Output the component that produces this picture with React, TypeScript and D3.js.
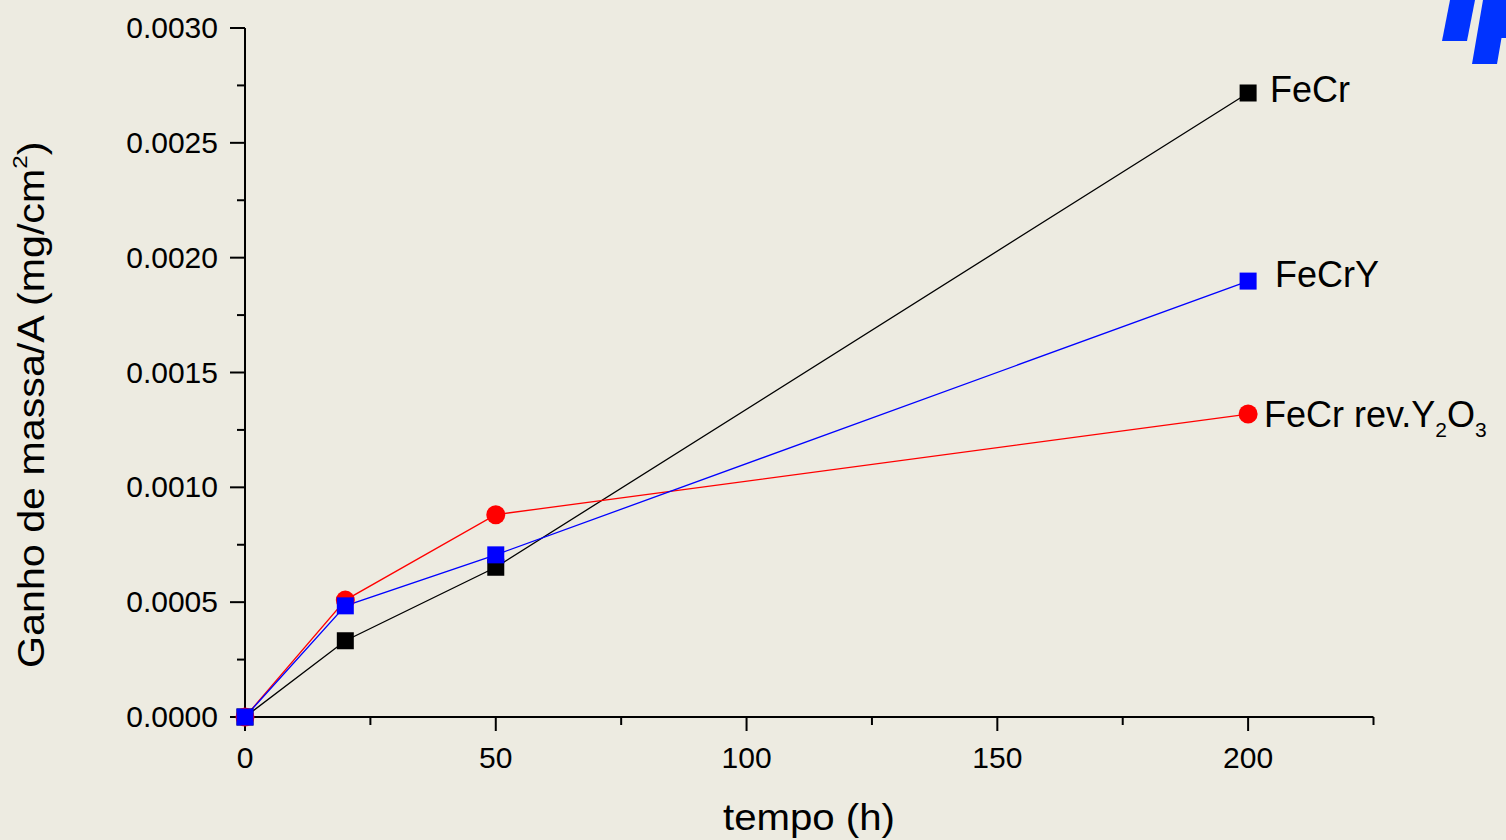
import React from "react";
import * as d3 from "d3";

const times = [0, 20, 50, 200];
const feCr = [0, 0.000332, 0.000652, 0.002717];
const feCrY = [0, 0.000484, 0.000706, 0.001898];
const feCrRev = [0, 0.000509, 0.000881, 0.001319];

const xMajorTicks = [0, 50, 100, 150, 200];
const xMinorTicks = [25, 75, 125, 175, 225];
const yMajorTicks = [0, 0.0005, 0.001, 0.0015, 0.002, 0.0025, 0.003];
const yMinorTicks = [0.00025, 0.00075, 0.00125, 0.00175, 0.00225, 0.00275];

const W = 1506;
const H = 840;
const BG = "#EDEBE1";
const FONT = "'Liberation Sans', Arial, Helvetica, sans-serif";

export default function App() {
  const x = d3.scaleLinear().domain([0, 225]).range([245, 1373.5]);
  const y = d3.scaleLinear().domain([0, 0.003]).range([717, 28]);
  const fmt = d3.format(".4f");
  const line = d3
    .line<[number, number]>()
    .x((d) => x(d[0]))
    .y((d) => y(d[1]));
  const pts = (vals: number[]) => times.map((t, i) => [t, vals[i]] as [number, number]);

  const sq = 17;
  const series = [
    { vals: feCr, color: "#000000", shape: "square" },
    { vals: feCrRev, color: "#FF0000", shape: "circle" },
    { vals: feCrY, color: "#0000FF", shape: "square" },
  ];

  return (
    <div style={{ position: "fixed", left: 0, top: 0, width: W, height: H, background: BG }}>
      <svg width={W} height={H} style={{ display: "block" }} fontFamily={FONT}>
        <rect x={0} y={0} width={W} height={H} fill={BG} />
        {/* logo fragment */}
        <polygon points="1450,0 1475,0 1467,41 1442,41" fill="#0033FF" />
        <polygon points="1483,0 1506,0 1506,38 1501.5,38 1497,64 1472,64" fill="#0033FF" />

        {/* axes */}
        <line x1={x(0)} x2={x(0)} y1={y(0.003)} y2={y(0)} stroke="#000" strokeWidth={2} />
        <line x1={x(0)} x2={x(225)} y1={y(0)} y2={y(0)} stroke="#000" strokeWidth={2} />
        {yMajorTicks.map((t) => (
          <g key={"ym" + t}>
            <line x1={x(0) - 15} x2={x(0)} y1={y(t)} y2={y(t)} stroke="#000" strokeWidth={2} />
            <text x={218} y={y(t) + 10} textAnchor="end" fontSize={30} fill="#000">
              {fmt(t)}
            </text>
          </g>
        ))}
        {yMinorTicks.map((t) => (
          <line key={"yn" + t} x1={x(0) - 8} x2={x(0)} y1={y(t)} y2={y(t)} stroke="#000" strokeWidth={2} />
        ))}
        {xMajorTicks.map((t) => (
          <g key={"xm" + t}>
            <line x1={x(t)} x2={x(t)} y1={y(0)} y2={y(0) + 14} stroke="#000" strokeWidth={2} />
            <text x={x(t)} y={768} textAnchor="middle" fontSize={30} fill="#000">
              {t}
            </text>
          </g>
        ))}
        {xMinorTicks.map((t) => (
          <line key={"xn" + t} x1={x(t)} x2={x(t)} y1={y(0)} y2={y(0) + 8} stroke="#000" strokeWidth={2} />
        ))}

        {/* axis titles */}
        <text x={809} y={830} textAnchor="middle" fontSize={37} fill="#000" textLength={172} lengthAdjust="spacingAndGlyphs">
          tempo (h)
        </text>
        <text
          transform="translate(44,668) rotate(-90) scale(1.145,1)"
          x={0}
          y={0}
          fontSize={36}
          fill="#000"
        >
          Ganho de massa/A (mg/cm
          <tspan fontSize={21} dy={-17}>2</tspan>
          <tspan dy={17}>)</tspan>
        </text>

        {/* series */}
        {series.map((s, si) => (
          <g key={"s" + si}>
            <path d={line(pts(s.vals)) || ""} fill="none" stroke={s.color} strokeWidth={1.3} />
          </g>
        ))}
        {series.map((s, si) => (
          <g key={"m" + si}>
            {pts(s.vals).map((p, i) =>
              s.shape === "square" ? (
                <rect key={i} x={x(p[0]) - sq / 2} y={y(p[1]) - sq / 2} width={sq} height={sq} fill={s.color} />
              ) : (
                <circle key={i} cx={x(p[0])} cy={y(p[1])} r={9.5} fill={s.color} />
              )
            )}
          </g>
        ))}

        {/* labels */}
        <text x={1270} y={102} fontSize={36} fill="#000">FeCr</text>
        <text x={1275} y={287} fontSize={36} fill="#000">FeCrY</text>
        <text x={1264} y={427} fontSize={36} fill="#000">
          FeCr rev.Y
          <tspan fontSize={21} dy={10}>2</tspan>
          <tspan dy={-10}>O</tspan>
          <tspan fontSize={21} dy={10}>3</tspan>
        </text>
      </svg>
    </div>
  );
}
